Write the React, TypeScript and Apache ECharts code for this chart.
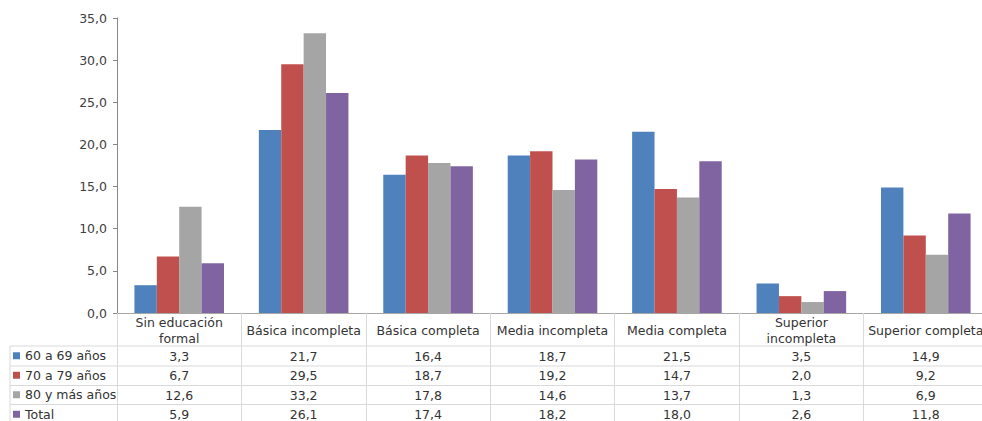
import React, { useEffect, useRef } from "react";
import * as echarts from "echarts";

// Education level categories (x axis / table header)
const categories = [
  "Sin educación\nformal",
  "Básica incompleta",
  "Básica completa",
  "Media incompleta",
  "Media completa",
  "Superior\nincompleta",
  "Superior completa",
];

// Percentages per age group
const seriesNames = ["60 a 69 años", "70 a 79 años", "80 y más años", "Total"];
const age60to69 = [3.3, 21.7, 16.4, 18.7, 21.5, 3.5, 14.9];
const age70to79 = [6.7, 29.5, 18.7, 19.2, 14.7, 2.0, 9.2];
const age80plus = [12.6, 33.2, 17.8, 14.6, 13.7, 1.3, 6.9];
const total = [5.9, 26.1, 17.4, 18.2, 18.0, 2.6, 11.8];

const yTicks = { min: 0, max: 35, interval: 5 };

const colors = ["#4F81BD", "#C0504D", "#A5A5A5", "#8064A2"];
const FONT = "'DejaVu Sans', Verdana, sans-serif";
const TABLE_FONT_SIZE = 12.5;
const fmt = (v: number) => v.toFixed(1).replace(".", ",");

export default function App() {
  const ref = useRef<HTMLDivElement>(null);

  useEffect(() => {
    if (!ref.current) return;
    const chart = echarts.init(ref.current, null, { renderer: "svg" });
    const seriesData = [age60to69, age70to79, age80plus, total];

    const gridLeft = 117;
    const gridTop = 18;
    const axisY = 313;
    const rowCenters = [356, 375.5, 395, 414.5];
    const rowLines = [346, 366, 385.5, 404.5];
    const lineColor = "#D9D9D9";

    const tableAxes = seriesData.map((vals, i) => ({
      type: "category",
      gridIndex: 0,
      position: "bottom",
      offset: rowCenters[i] - axisY,
      data: categories,
      axisLine: { show: false },
      axisTick: { show: false },
      splitLine: { show: false },
      axisLabel: {
        interval: 0,
        margin: 0,
        verticalAlign: "middle",
        fontFamily: FONT,
        fontSize: TABLE_FONT_SIZE,
        color: "#333333",
        formatter: (_: string, idx: number) => fmt(vals[idx]),
      },
    }));

    chart.setOption({
      animation: false,
      textStyle: { fontFamily: FONT },
      grid: {
        left: gridLeft,
        top: gridTop,
        right: -6,
        bottom: 421 - axisY,
        containLabel: false,
        outerBoundsMode: "none",
      },
      legend: {
        orient: "vertical",
        left: 13,
        top: rowLines[0],
        height: 100,
        itemWidth: 7,
        itemHeight: 7,
        itemGap: 0,
        icon: "rect",
        padding: 0,
        data: seriesNames,
        textStyle: {
          fontFamily: FONT,
          fontSize: TABLE_FONT_SIZE,
          color: "#333333",
          lineHeight: 19.5,
        },
      },
      xAxis: [
        {
          type: "category",
          data: categories,
          axisLine: { show: true, lineStyle: { color: "#A6A6A6" } },
          axisTick: {
            show: true,
            length: 421 - axisY,
            lineStyle: { color: lineColor },
          },
          axisLabel: {
            interval: 0,
            margin: 17,
            verticalAlign: "middle",
            lineHeight: 16,
            fontFamily: FONT,
            fontSize: TABLE_FONT_SIZE,
            color: "#333333",
          },
        },
        ...tableAxes,
      ],
      yAxis: {
        type: "value",
        min: yTicks.min,
        max: yTicks.max,
        interval: yTicks.interval,
        splitLine: { show: false },
        axisLine: { show: true, lineStyle: { color: "#868686" } },
        axisTick: { show: true, length: 4, lineStyle: { color: "#868686" } },
        axisLabel: {
          margin: 10,
          fontFamily: FONT,
          fontSize: 12.5,
          color: "#404040",
          formatter: (v: number) => fmt(v),
        },
      },
      series: seriesData.map((vals, i) => ({
        name: seriesNames[i],
        type: "bar",
        xAxisIndex: 0,
        data: vals,
        barGap: "0%",
        barCategoryGap: "28%",
        itemStyle: { color: colors[i] },
      })),
      graphic: [
        ...rowLines.map((y) => ({
          type: "line",
          shape: { x1: 10, y1: y, x2: 982, y2: y },
          style: { stroke: lineColor, lineWidth: 1 },
          silent: true,
        })),
        {
          type: "line",
          shape: { x1: 10, y1: rowLines[0], x2: 10, y2: 421 },
          style: { stroke: lineColor, lineWidth: 1 },
          silent: true,
        },
      ],
    });

    return () => chart.dispose();
  }, []);

  return (
    <div
      ref={ref}
      style={{ width: 982, height: 421, position: "absolute", left: 0, top: 0 }}
    />
  );
}
